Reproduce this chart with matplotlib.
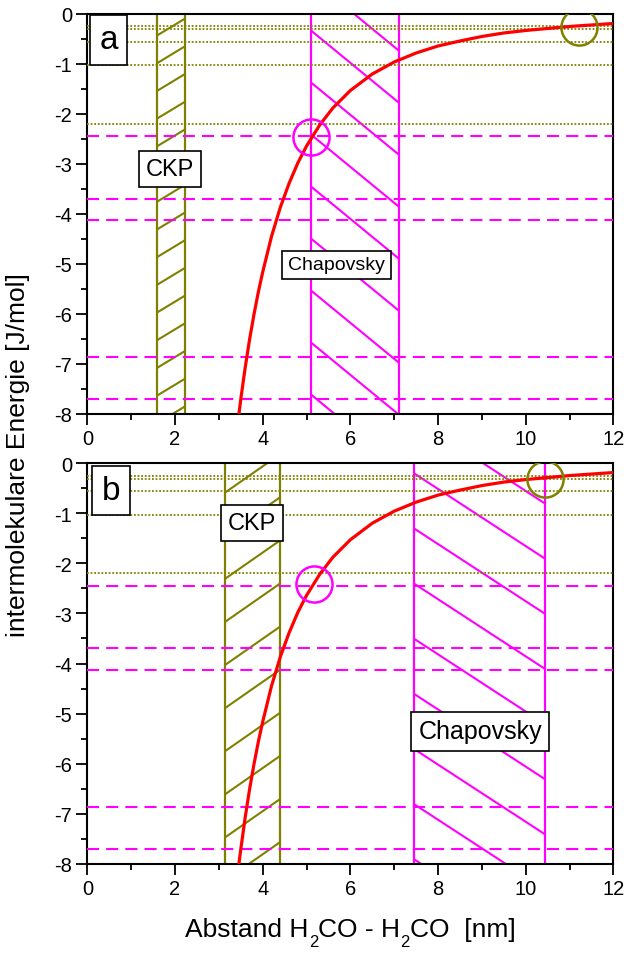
import numpy as np
import matplotlib.pyplot as plt
from matplotlib.ticker import MultipleLocator, FuncFormatter

plt.rcParams['font.family'] = ['Liberation Sans', 'DejaVu Sans']
plt.rcParams['axes.unicode_minus'] = False

# interaction energy vs. distance
dist = [3.42, 3.5, 3.6, 3.7, 3.8, 3.9, 4.0, 4.2, 4.4, 4.6, 4.8, 5.0, 5.3, 5.6,
        6.0, 6.5, 7.0, 7.5, 8.0, 8.5, 9.0, 9.5, 10.0, 10.5, 11.0, 11.5, 12.0]
energy = [-8.25, -7.70, -7.07, -6.51, -6.01, -5.56, -5.16, -4.45, -3.87, -3.39,
          -2.98, -2.64, -2.22, -1.88, -1.53, -1.20, -0.96, -0.78, -0.64, -0.54,
          -0.45, -0.38, -0.33, -0.29, -0.25, -0.22, -0.19]

# level lines
levels_ckp = [-0.25, -0.31, -0.56, -1.03, -2.2]
levels_chap = [-2.45, -3.7, -4.13, -6.87, -7.7]

# distance ranges per panel
ckp_range = {'a': (1.59, 2.23), 'b': (3.14, 4.40)}
chap_range = {'a': (5.10, 7.10), 'b': (7.46, 10.45)}

# marked points
mark_ckp = {'a': (11.22, -0.27), 'b': (10.43, -0.31)}
mark_chap = {'a': (5.09, -2.46), 'b': (5.16, -2.42)}

# label positions (data coords)
lbl_panel = {'a': (0.48, -0.52), 'b': (0.54, -0.55)}
lbl_ckp = {'a': (1.89, -3.10), 'b': (3.75, -1.19)}
lbl_chap = {'a': (5.68, -5.02), 'b': (8.96, -5.35)}

OLIVE = '#808000'
MAGENTA = '#ff00ff'

# hatch style: (slope, spacing, first line y at left edge)
hatch_ckp = {'a': (0.53, 0.554, -0.43), 'b': (0.61, 0.86, -2.31)}
hatch_chap = {'a': (-0.72, 1.04, -0.33), 'b': (-0.57, 1.10, -0.21)}


def hatch(ax, x0, x1, slope, step, start, color):
    for y0 in start + step * np.arange(-25, 25):
        y1 = y0 + slope * (x1 - x0)
        if max(y0, y1) < -8 or min(y0, y1) > 0:
            continue
        ax.plot([x0, x1], [y0, y1], color=color, lw=1.5, zorder=2,
                solid_capstyle='butt')


fig = plt.figure(figsize=(6.26, 9.54), dpi=100)
ax_a = fig.add_axes([0.1396, 0.565, 0.8403, 0.4193])
ax_b = fig.add_axes([0.1396, 0.0933, 0.8403, 0.4203])

box = dict(boxstyle='square,pad=0.3', fc='white', ec='black', lw=1.2)

for key, ax in (('a', ax_a), ('b', ax_b)):
    ax.set_xlim(0, 12)
    ax.set_ylim(-8, 0)

    for y in levels_ckp:
        ax.axhline(y, color=OLIVE, lw=1.3, ls=(0, (1, 1)), zorder=3)
    for y in levels_chap:
        ax.axhline(y, color=MAGENTA, lw=1.5, ls=(0, (5.8, 3.4)), zorder=3)

    x0, x1 = ckp_range[key]
    ax.axvline(x0, color=OLIVE, lw=1.6, zorder=2)
    ax.axvline(x1, color=OLIVE, lw=1.6, zorder=2)
    hatch(ax, x0, x1, *hatch_ckp[key], OLIVE)

    x0, x1 = chap_range[key]
    ax.axvline(x0, color=MAGENTA, lw=1.6, zorder=2)
    ax.axvline(x1, color=MAGENTA, lw=1.6, zorder=2)
    hatch(ax, x0, x1, *hatch_chap[key], MAGENTA)

    ax.plot(dist, energy, color='#ff0000', lw=2.3, zorder=4)

    ax.plot(*mark_ckp[key], 'o', ms=26, mfc='none', mec=OLIVE, mew=1.8, zorder=5)
    ax.plot(*mark_chap[key], 'o', ms=26, mfc='none', mec=MAGENTA, mew=1.8, zorder=5)

    ax.text(*lbl_panel[key], key, fontsize=24, ha='center', va='center',
            bbox=dict(boxstyle='square,pad=0.28', fc='white', ec='black', lw=1.2),
            zorder=6)
    ax.text(*lbl_ckp[key], 'CKP', fontsize=17, ha='center', va='center',
            bbox=box, zorder=6)
    ax.text(*lbl_chap[key], 'Chapovsky', fontsize=18 if key == 'b' else 14,
            ha='center', va='center', bbox=box, zorder=6)

    ax.xaxis.set_major_locator(MultipleLocator(2))
    ax.xaxis.set_minor_locator(MultipleLocator(1))
    ax.yaxis.set_major_locator(MultipleLocator(1))
    ax.yaxis.set_minor_locator(MultipleLocator(0.5))
    ax.yaxis.set_major_formatter(FuncFormatter(lambda v, p: '%d' % round(v)))
    ax.tick_params(which='major', direction='out', length=8, width=1.3,
                   labelsize=14.5, pad=3)
    ax.tick_params(which='minor', direction='out', length=4.5, width=1.3)
    for sp in ax.spines.values():
        sp.set_linewidth(1.5)

fig.text(0.028, 0.523, 'intermolekulare Energie [J/mol]', rotation=90,
         ha='center', va='center', fontsize=19)

# x label built piece by piece so the subscripts sit low
fs, fs_sub = 19, 12
desc = 0.21 * fs
base = fig.text(0.2955, 0.0175, 'Abstand H', ha='left', va='baseline', fontsize=fs)
prev = base
for piece, sub in (('2', True), ('CO - H', False), ('2', True), ('CO  [nm]', False)):
    if sub:
        prev = ax_b.annotate(piece, xy=(1, 0), xycoords=(prev, base),
                             xytext=(0.3, desc + 1.0), textcoords='offset points',
                             ha='left', va='top', fontsize=fs_sub,
                             annotation_clip=False)
    else:
        prev = ax_b.annotate(piece, xy=(1, 0), xycoords=(prev, base),
                             ha='left', va='bottom', fontsize=fs,
                             annotation_clip=False)

fig.savefig('out.png', dpi=100)
